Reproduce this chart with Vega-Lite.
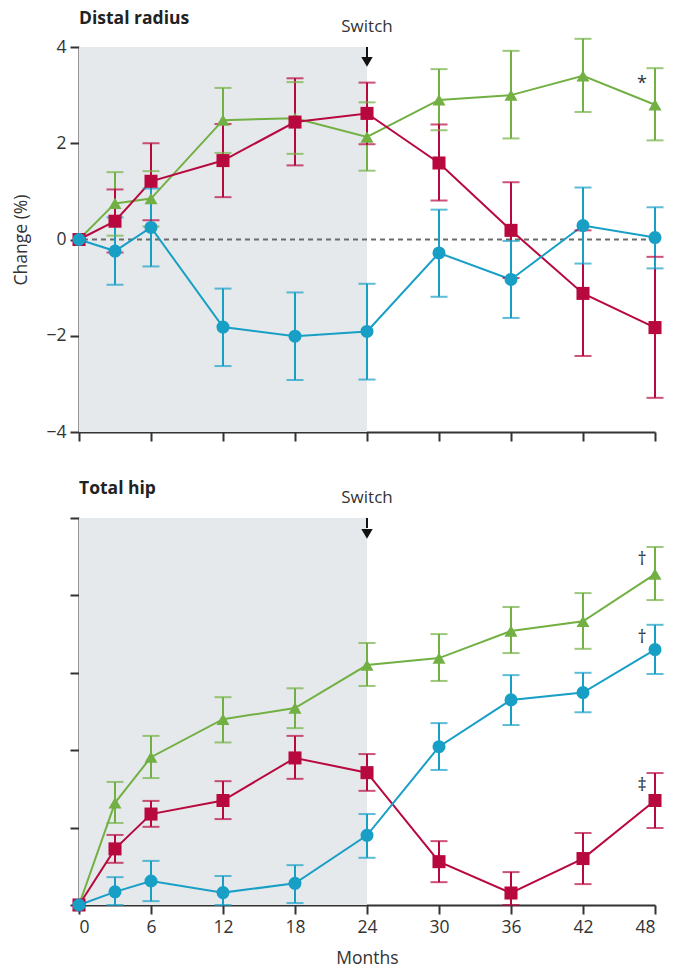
{
  "$schema": "https://vega.github.io/schema/vega-lite/v6.json",
  "background": "white",
  "padding": {"left": 12, "top": 9, "right": 5, "bottom": 6},
  "spacing": 38,
  "config": {
    "font": "Open Sans",
    "view": {"stroke": null},
    "axis": {
      "grid": false,
      "domainColor": "#333333",
      "domainWidth": 2,
      "tickColor": "#333333",
      "tickWidth": 2,
      "tickSize": 9,
      "labelFont": "Open Sans",
      "labelFontSize": 17.5,
      "labelColor": "#333333",
      "labelPadding": 4,
      "titleFont": "Open Sans",
      "titleFontSize": 17.5,
      "titleFontWeight": "normal",
      "titleColor": "#333333"
    },
    "title": {"anchor": "start", "frame": "group", "fontSize": 17.5, "fontWeight": "bold", "color": "#222222", "font": "Open Sans", "offset": -9}
  },
  "datasets": {
    "radius": [
      {"group": "Combination to denosumab", "month": 0, "mean": 0, "lo": 0, "hi": 0, "note": ""},
      {"group": "Combination to denosumab", "month": 3, "mean": 0.75, "lo": 0.08, "hi": 1.40, "note": ""},
      {"group": "Combination to denosumab", "month": 6, "mean": 0.85, "lo": 0.27, "hi": 1.42, "note": ""},
      {"group": "Combination to denosumab", "month": 12, "mean": 2.48, "lo": 1.80, "hi": 3.15, "note": ""},
      {"group": "Combination to denosumab", "month": 18, "mean": 2.52, "lo": 1.78, "hi": 3.27, "note": ""},
      {"group": "Combination to denosumab", "month": 24, "mean": 2.13, "lo": 1.43, "hi": 2.85, "note": ""},
      {"group": "Combination to denosumab", "month": 30, "mean": 2.90, "lo": 2.27, "hi": 3.54, "note": ""},
      {"group": "Combination to denosumab", "month": 36, "mean": 3.00, "lo": 2.10, "hi": 3.92, "note": ""},
      {"group": "Combination to denosumab", "month": 42, "mean": 3.40, "lo": 2.65, "hi": 4.17, "note": ""},
      {"group": "Combination to denosumab", "month": 48, "mean": 2.80, "lo": 2.06, "hi": 3.56, "note": "*"},
      {"group": "Denosumab to teriparatide", "month": 0, "mean": 0, "lo": 0, "hi": 0, "note": ""},
      {"group": "Denosumab to teriparatide", "month": 3, "mean": 0.38, "lo": -0.27, "hi": 1.04, "note": ""},
      {"group": "Denosumab to teriparatide", "month": 6, "mean": 1.21, "lo": 0.40, "hi": 2.00, "note": ""},
      {"group": "Denosumab to teriparatide", "month": 12, "mean": 1.64, "lo": 0.88, "hi": 2.40, "note": ""},
      {"group": "Denosumab to teriparatide", "month": 18, "mean": 2.44, "lo": 1.54, "hi": 3.35, "note": ""},
      {"group": "Denosumab to teriparatide", "month": 24, "mean": 2.62, "lo": 1.98, "hi": 3.26, "note": ""},
      {"group": "Denosumab to teriparatide", "month": 30, "mean": 1.59, "lo": 0.81, "hi": 2.39, "note": ""},
      {"group": "Denosumab to teriparatide", "month": 36, "mean": 0.19, "lo": -0.80, "hi": 1.19, "note": ""},
      {"group": "Denosumab to teriparatide", "month": 42, "mean": -1.12, "lo": -2.42, "hi": 0.19, "note": ""},
      {"group": "Denosumab to teriparatide", "month": 48, "mean": -1.83, "lo": -3.29, "hi": -0.36, "note": ""},
      {"group": "Teriparatide to denosumab", "month": 0, "mean": 0, "lo": 0, "hi": 0, "note": ""},
      {"group": "Teriparatide to denosumab", "month": 3, "mean": -0.24, "lo": -0.94, "hi": 0.46, "note": ""},
      {"group": "Teriparatide to denosumab", "month": 6, "mean": 0.25, "lo": -0.56, "hi": 1.06, "note": ""},
      {"group": "Teriparatide to denosumab", "month": 12, "mean": -1.82, "lo": -2.63, "hi": -1.02, "note": ""},
      {"group": "Teriparatide to denosumab", "month": 18, "mean": -2.01, "lo": -2.92, "hi": -1.10, "note": ""},
      {"group": "Teriparatide to denosumab", "month": 24, "mean": -1.91, "lo": -2.91, "hi": -0.92, "note": ""},
      {"group": "Teriparatide to denosumab", "month": 30, "mean": -0.28, "lo": -1.19, "hi": 0.62, "note": ""},
      {"group": "Teriparatide to denosumab", "month": 36, "mean": -0.83, "lo": -1.63, "hi": -0.03, "note": ""},
      {"group": "Teriparatide to denosumab", "month": 42, "mean": 0.29, "lo": -0.50, "hi": 1.08, "note": ""},
      {"group": "Teriparatide to denosumab", "month": 48, "mean": 0.04, "lo": -0.60, "hi": 0.67, "note": ""}
    ],
    "hip": [
      {"group": "Combination to denosumab", "month": 0, "mean": 0, "lo": 0, "hi": 0, "note": ""},
      {"group": "Combination to denosumab", "month": 3, "mean": 2.64, "lo": 2.12, "hi": 3.18, "note": ""},
      {"group": "Combination to denosumab", "month": 6, "mean": 3.82, "lo": 3.28, "hi": 4.37, "note": ""},
      {"group": "Combination to denosumab", "month": 12, "mean": 4.80, "lo": 4.20, "hi": 5.37, "note": ""},
      {"group": "Combination to denosumab", "month": 18, "mean": 5.09, "lo": 4.57, "hi": 5.60, "note": ""},
      {"group": "Combination to denosumab", "month": 24, "mean": 6.20, "lo": 5.66, "hi": 6.77, "note": ""},
      {"group": "Combination to denosumab", "month": 30, "mean": 6.38, "lo": 5.79, "hi": 7.00, "note": ""},
      {"group": "Combination to denosumab", "month": 36, "mean": 7.08, "lo": 6.51, "hi": 7.70, "note": ""},
      {"group": "Combination to denosumab", "month": 42, "mean": 7.33, "lo": 6.62, "hi": 8.06, "note": ""},
      {"group": "Combination to denosumab", "month": 48, "mean": 8.55, "lo": 7.88, "hi": 9.25, "note": "†"},
      {"group": "Denosumab to teriparatide", "month": 0, "mean": 0, "lo": 0, "hi": 0, "note": ""},
      {"group": "Denosumab to teriparatide", "month": 3, "mean": 1.45, "lo": 1.09, "hi": 1.81, "note": ""},
      {"group": "Denosumab to teriparatide", "month": 6, "mean": 2.35, "lo": 2.02, "hi": 2.69, "note": ""},
      {"group": "Denosumab to teriparatide", "month": 12, "mean": 2.70, "lo": 2.22, "hi": 3.20, "note": ""},
      {"group": "Denosumab to teriparatide", "month": 18, "mean": 3.80, "lo": 3.26, "hi": 4.37, "note": ""},
      {"group": "Denosumab to teriparatide", "month": 24, "mean": 3.42, "lo": 2.95, "hi": 3.90, "note": ""},
      {"group": "Denosumab to teriparatide", "month": 30, "mean": 1.12, "lo": 0.59, "hi": 1.65, "note": ""},
      {"group": "Denosumab to teriparatide", "month": 36, "mean": 0.31, "lo": 0.00, "hi": 0.85, "note": ""},
      {"group": "Denosumab to teriparatide", "month": 42, "mean": 1.20, "lo": 0.54, "hi": 1.86, "note": ""},
      {"group": "Denosumab to teriparatide", "month": 48, "mean": 2.70, "lo": 1.99, "hi": 3.41, "note": "‡"},
      {"group": "Teriparatide to denosumab", "month": 0, "mean": 0, "lo": 0, "hi": 0, "note": ""},
      {"group": "Teriparatide to denosumab", "month": 3, "mean": 0.34, "lo": 0.00, "hi": 0.72, "note": ""},
      {"group": "Teriparatide to denosumab", "month": 6, "mean": 0.62, "lo": 0.10, "hi": 1.14, "note": ""},
      {"group": "Teriparatide to denosumab", "month": 12, "mean": 0.32, "lo": 0.00, "hi": 0.75, "note": ""},
      {"group": "Teriparatide to denosumab", "month": 18, "mean": 0.56, "lo": 0.05, "hi": 1.03, "note": ""},
      {"group": "Teriparatide to denosumab", "month": 24, "mean": 1.80, "lo": 1.22, "hi": 2.35, "note": ""},
      {"group": "Teriparatide to denosumab", "month": 30, "mean": 4.09, "lo": 3.49, "hi": 4.70, "note": ""},
      {"group": "Teriparatide to denosumab", "month": 36, "mean": 5.30, "lo": 4.65, "hi": 5.94, "note": ""},
      {"group": "Teriparatide to denosumab", "month": 42, "mean": 5.49, "lo": 4.98, "hi": 6.00, "note": ""},
      {"group": "Teriparatide to denosumab", "month": 48, "mean": 6.60, "lo": 5.97, "hi": 7.24, "note": "†"}
    ]
  },
  "vconcat": [
    {
      "width": 576,
      "height": 385,
      "title": {"text": "Distal radius"},
      "data": {"name": "radius"},
      "layer": [
        {
          "data": {"values": [{}]},
          "mark": {"type": "rect", "color": "#e6e9ec"},
          "encoding": {
            "x": {"datum": 0, "type": "quantitative", "scale": {"domain": [0, 48], "nice": false}},
            "x2": {"datum": 24}
          }
        },
        {
          "data": {"values": [{}]},
          "mark": {"type": "rule", "color": "#6b6b6b", "strokeWidth": 2, "strokeDash": [5, 4]},
          "encoding": {
            "y": {"datum": 0, "type": "quantitative", "scale": {"domain": [-4, 4], "nice": false}}
          }
        },
        {
          "mark": {"type": "line", "strokeWidth": 2},
          "encoding": {
            "x": {
              "field": "month", "type": "quantitative",
              "scale": {"domain": [0, 48], "nice": false},
              "axis": {"values": [0, 6, 12, 18, 24, 30, 36, 42, 48], "labels": false, "title": null}
            },
            "y": {
              "field": "mean", "type": "quantitative",
              "scale": {"domain": [-4, 4], "nice": false},
              "axis": {"values": [-4, -2, 0, 2, 4], "title": "Change (%)", "titlePadding": 15}
            },
            "color": {
              "field": "group", "type": "nominal", "legend": null,
              "scale": {"domain": ["Combination to denosumab", "Denosumab to teriparatide", "Teriparatide to denosumab"], "range": ["#72b043", "#b8093f", "#189fc6"]}
            }
          }
        },
        {
          "transform": [{"filter": "datum.month > 0"}],
          "mark": {"type": "rule", "strokeWidth": 2},
          "encoding": {
            "x": {"field": "month", "type": "quantitative"},
            "y": {"field": "lo", "type": "quantitative", "scale": {"domain": [-4, 4], "nice": false}},
            "y2": {"field": "hi"},
            "color": {"field": "group", "type": "nominal", "legend": null}
          }
        },
        {
          "transform": [{"filter": "datum.month > 0"}],
          "mark": {"type": "tick", "orient": "horizontal", "size": 17, "thickness": 2},
          "encoding": {
            "x": {"field": "month", "type": "quantitative"},
            "y": {"field": "lo", "type": "quantitative", "scale": {"domain": [-4, 4], "nice": false}},
            "color": {"field": "group", "type": "nominal", "legend": null}
          }
        },
        {
          "transform": [{"filter": "datum.month > 0"}],
          "mark": {"type": "tick", "orient": "horizontal", "size": 17, "thickness": 2},
          "encoding": {
            "x": {"field": "month", "type": "quantitative"},
            "y": {"field": "hi", "type": "quantitative", "scale": {"domain": [-4, 4], "nice": false}},
            "color": {"field": "group", "type": "nominal", "legend": null}
          }
        },
        {
          "mark": {"type": "point", "filled": true, "opacity": 1, "size": 170},
          "encoding": {
            "x": {"field": "month", "type": "quantitative"},
            "y": {"field": "mean", "type": "quantitative", "scale": {"domain": [-4, 4], "nice": false}},
            "color": {"field": "group", "type": "nominal", "legend": null},
            "shape": {
              "field": "group", "type": "nominal", "legend": null,
              "scale": {"domain": ["Combination to denosumab", "Denosumab to teriparatide", "Teriparatide to denosumab"], "range": ["triangle-up", "square", "circle"]}
            }
          }
        },
        {
          "transform": [{"filter": "datum.note != ''"}],
          "mark": {"type": "text", "dx": -13, "dy": 16, "baseline": "middle", "fontSize": 18, "color": "#333333"},
          "encoding": {
            "x": {"field": "month", "type": "quantitative"},
            "y": {"field": "hi", "type": "quantitative", "scale": {"domain": [-4, 4], "nice": false}},
            "text": {"field": "note"}
          }
        },
        {
          "data": {"values": [{}]},
          "mark": {"type": "text", "text": "Switch", "fontSize": 17, "color": "#333333", "baseline": "alphabetic"},
          "encoding": {
            "x": {"datum": 24, "type": "quantitative"},
            "y": {"datum": 4.31, "type": "quantitative", "scale": {"domain": [-4, 4], "nice": false}}
          }
        },
        {
          "data": {"values": [{}]},
          "mark": {"type": "rule", "color": "#111111", "strokeWidth": 2},
          "encoding": {
            "x": {"datum": 24, "type": "quantitative"},
            "y": {"datum": 4.0, "type": "quantitative", "scale": {"domain": [-4, 4], "nice": false}},
            "y2": {"datum": 3.78}
          }
        },
        {
          "data": {"values": [{}]},
          "mark": {"type": "point", "shape": "triangle-down", "filled": true, "opacity": 1, "size": 130, "color": "#111111"},
          "encoding": {
            "x": {"datum": 24, "type": "quantitative"},
            "y": {"datum": 3.69, "type": "quantitative", "scale": {"domain": [-4, 4], "nice": false}}
          }
        }
      ]
    },
    {
      "width": 576,
      "height": 387,
      "title": {"text": "Total hip"},
      "data": {"name": "hip"},
      "layer": [
        {
          "data": {"values": [{}]},
          "mark": {"type": "rect", "color": "#e6e9ec"},
          "encoding": {
            "x": {"datum": 0, "type": "quantitative", "scale": {"domain": [0, 48], "nice": false}},
            "x2": {"datum": 24}
          }
        },
        {
          "mark": {"type": "line", "strokeWidth": 2},
          "encoding": {
            "x": {
              "field": "month", "type": "quantitative",
              "scale": {"domain": [0, 48], "nice": false},
              "axis": {"values": [0, 6, 12, 18, 24, 30, 36, 42, 48], "title": "Months", "titlePadding": 14}
            },
            "y": {
              "field": "mean", "type": "quantitative",
              "scale": {"domain": [0, 10], "nice": false},
              "axis": {"values": [0, 2, 4, 6, 8, 10], "labels": false, "title": null}
            },
            "color": {
              "field": "group", "type": "nominal", "legend": null,
              "scale": {"domain": ["Combination to denosumab", "Denosumab to teriparatide", "Teriparatide to denosumab"], "range": ["#72b043", "#b8093f", "#189fc6"]}
            }
          }
        },
        {
          "transform": [{"filter": "datum.month > 0"}],
          "mark": {"type": "rule", "strokeWidth": 2},
          "encoding": {
            "x": {"field": "month", "type": "quantitative"},
            "y": {"field": "lo", "type": "quantitative", "scale": {"domain": [0, 10], "nice": false}},
            "y2": {"field": "hi"},
            "color": {"field": "group", "type": "nominal", "legend": null}
          }
        },
        {
          "transform": [{"filter": "datum.month > 0"}],
          "mark": {"type": "tick", "orient": "horizontal", "size": 17, "thickness": 2},
          "encoding": {
            "x": {"field": "month", "type": "quantitative"},
            "y": {"field": "lo", "type": "quantitative", "scale": {"domain": [0, 10], "nice": false}},
            "color": {"field": "group", "type": "nominal", "legend": null}
          }
        },
        {
          "transform": [{"filter": "datum.month > 0"}],
          "mark": {"type": "tick", "orient": "horizontal", "size": 17, "thickness": 2},
          "encoding": {
            "x": {"field": "month", "type": "quantitative"},
            "y": {"field": "hi", "type": "quantitative", "scale": {"domain": [0, 10], "nice": false}},
            "color": {"field": "group", "type": "nominal", "legend": null}
          }
        },
        {
          "mark": {"type": "point", "filled": true, "opacity": 1, "size": 170},
          "encoding": {
            "x": {"field": "month", "type": "quantitative"},
            "y": {"field": "mean", "type": "quantitative", "scale": {"domain": [0, 10], "nice": false}},
            "color": {"field": "group", "type": "nominal", "legend": null},
            "shape": {
              "field": "group", "type": "nominal", "legend": null,
              "scale": {"domain": ["Combination to denosumab", "Denosumab to teriparatide", "Teriparatide to denosumab"], "range": ["triangle-up", "square", "circle"]}
            }
          }
        },
        {
          "transform": [{"filter": "datum.note != ''"}],
          "mark": {"type": "text", "dx": -13, "dy": 13, "baseline": "middle", "fontSize": 18, "color": "#333333"},
          "encoding": {
            "x": {"field": "month", "type": "quantitative"},
            "y": {"field": "hi", "type": "quantitative", "scale": {"domain": [0, 10], "nice": false}},
            "text": {"field": "note"}
          }
        },
        {
          "data": {"values": [{}]},
          "mark": {"type": "text", "text": "Switch", "fontSize": 17, "color": "#333333", "baseline": "alphabetic"},
          "encoding": {
            "x": {"datum": 24, "type": "quantitative"},
            "y": {"datum": 10.39, "type": "quantitative", "scale": {"domain": [0, 10], "nice": false}}
          }
        },
        {
          "data": {"values": [{}]},
          "mark": {"type": "rule", "color": "#111111", "strokeWidth": 2},
          "encoding": {
            "x": {"datum": 24, "type": "quantitative"},
            "y": {"datum": 10.0, "type": "quantitative", "scale": {"domain": [0, 10], "nice": false}},
            "y2": {"datum": 9.74}
          }
        },
        {
          "data": {"values": [{}]},
          "mark": {"type": "point", "shape": "triangle-down", "filled": true, "opacity": 1, "size": 130, "color": "#111111"},
          "encoding": {
            "x": {"datum": 24, "type": "quantitative"},
            "y": {"datum": 9.59, "type": "quantitative", "scale": {"domain": [0, 10], "nice": false}}
          }
        }
      ]
    }
  ]
}
